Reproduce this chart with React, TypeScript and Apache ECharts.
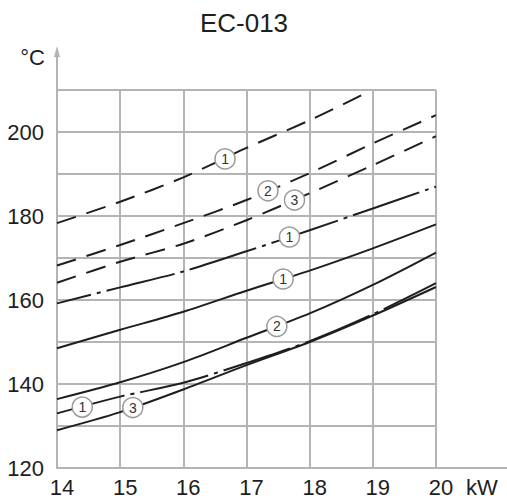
import React, { useEffect, useRef } from 'react';
import * as echarts from 'echarts';

const chartTitle = 'EC-013';
const xUnit = 'kW';
const yUnit = '°C';
const xTicks = [14, 15, 16, 17, 18, 19, 20];
const dashed1X = [14, 15, 16, 17, 18, 18.95];
const dashed1 = [178.3, 183.4, 189.2, 196.2, 202.8, 209.7];
const dashed2 = [168.2, 173.1, 178.3, 183.8, 190.2, 197.3, 204.0];
const dashed3 = [164.1, 169.1, 173.4, 179.0, 185.4, 192.1, 199.0];
const dashDotTop = [159.2, 163.0, 166.8, 171.6, 176.6, 181.8, 187.0];
const solid1 = [148.5, 152.9, 157.2, 162.2, 167.0, 172.3, 178.0];
const solid2 = [136.4, 140.4, 145.2, 151.0, 156.8, 163.6, 171.3];
const dashDotLow = [133.0, 137.0, 140.3, 145.0, 150.2, 156.6, 164.0];
const solid3 = [129.0, 133.3, 138.7, 144.5, 150.0, 156.3, 163.1];
const markerX = [16.66, 17.34, 17.76, 17.68, 17.58, 17.48, 14.4, 15.2];
const markerY = [193.6, 186.0, 183.8, 175.0, 165.0, 153.7, 134.5, 134.4];
const markerText = ['1', '2', '3', '1', '1', '2', '1', '3'];

const FONT = "'Liberation Sans', Arial, sans-serif";
const INK = '#1e1e1e';
const GRID = '#b4b4b4';

const pairs = (xs: number[], ys: number[]) => ys.map((y, i) => [xs[i], y]);

const curve = (name: string, data: number[][], type: any, dashOffset = 0) => ({
  name,
  type: 'line',
  data,
  smooth: 0.3,
  symbol: 'none',
  showSymbol: false,
  z: 3,
  lineStyle: { color: INK, width: 2, type, dashOffset },
});

export default function App() {
  const ref = useRef<HTMLDivElement>(null);
  useEffect(() => {
    document.body.style.margin = '0';
    if (!ref.current) return;
    const chart = echarts.init(ref.current, undefined, { renderer: 'svg' });
    const dash = [20, 11];
    const dashDot = [70, 6, 4, 6];
    chart.setOption({
      animation: false,
      backgroundColor: '#fff',
      textStyle: { fontFamily: FONT },
      title: {
        text: chartTitle,
        left: 239,
        top: 5,
        textAlign: 'center',
        textStyle: { fontFamily: FONT, fontSize: 26, fontWeight: 'normal', color: INK },
      },
      grid: { left: 57, right: 71, top: 90, bottom: 34, outerBoundsMode: 'none' },
      xAxis: {
        type: 'value',
        min: 14,
        max: 20,
        interval: 1,
        name: xUnit,
        nameLocation: 'end',
        nameGap: 30,
        nameTextStyle: { fontFamily: FONT, fontSize: 22, color: INK, verticalAlign: 'top', padding: [8, 0, 0, 0] },
        axisLine: { show: true, lineStyle: { color: GRID, width: 2 } },
        axisTick: { show: false },
        axisLabel: { fontFamily: FONT, fontSize: 22, color: INK, margin: 8, padding: [0, 0, 0, 10] },
        splitLine: { show: true, lineStyle: { color: GRID, width: 2 } },
      },
      yAxis: {
        type: 'value',
        min: 120,
        max: 210,
        interval: 10,
        name: yUnit,
        nameLocation: 'end',
        nameGap: 22,
        nameTextStyle: { fontFamily: FONT, fontSize: 22, color: INK, align: 'right', padding: [0, 12, 0, 0] },
        axisLine: { show: true, lineStyle: { color: GRID, width: 2 } },
        axisTick: { show: false },
        axisLabel: {
          fontFamily: FONT,
          fontSize: 22,
          color: INK,
          margin: 13,
          formatter: (v: number) => (v % 20 === 0 && v <= 200 ? String(v) : ''),
        },
        splitLine: { show: true, lineStyle: { color: GRID, width: 2 } },
      },
      graphic: [
        { type: 'line', shape: { x1: 57, y1: 90, x2: 57, y2: 54 }, style: { stroke: GRID, lineWidth: 2 } },
        { type: 'polygon', shape: { points: [[57, 46], [54, 57], [60, 57]] }, style: { fill: GRID } },
        { type: 'line', shape: { x1: 436, y1: 468, x2: 507, y2: 468 }, style: { stroke: GRID, lineWidth: 2 } },
      ],
      series: [
        curve('dashed-1', pairs(dashed1X, dashed1), dash),
        curve('dashed-2', pairs(xTicks, dashed2), dash),
        curve('dashed-3', pairs(xTicks, dashed3), dash),
        curve('dashdot-1', pairs(xTicks, dashDotTop), dashDot, 35),
        curve('solid-1', pairs(xTicks, solid1), 'solid'),
        curve('solid-2', pairs(xTicks, solid2), 'solid'),
        curve('dashdot-low-1', pairs(xTicks, dashDotLow), dashDot, 0),
        curve('solid-3', pairs(xTicks, solid3), 'solid'),
        {
          name: 'markers',
          type: 'scatter',
          z: 5,
          symbol: 'circle',
          symbolSize: 20,
          data: pairs(markerX, markerY),
          itemStyle: { color: '#fff', borderColor: '#9a9a9a', borderWidth: 1.5, opacity: 1 },
          label: {
            show: true,
            position: 'inside',
            formatter: (p: any) => markerText[p.dataIndex],
            fontFamily: FONT,
            fontSize: 14,
            color: '#333',
          },
          emphasis: { disabled: true },
        },
      ],
    });
    return () => chart.dispose();
  }, []);
  return <div ref={ref} style={{ width: 507, height: 502 }} />;
}
